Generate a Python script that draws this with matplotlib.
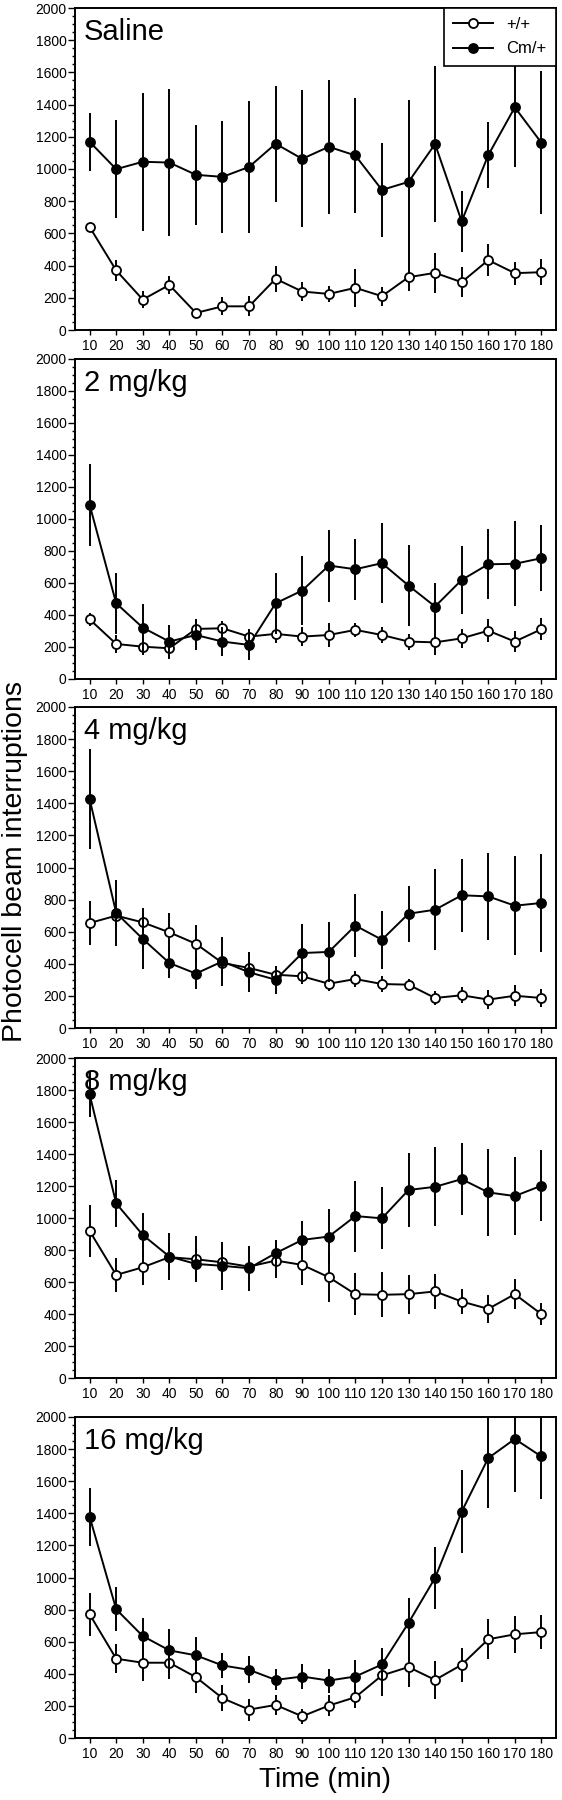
import matplotlib
matplotlib.use("Agg")
import matplotlib.pyplot as plt
from matplotlib.ticker import MultipleLocator
from matplotlib.lines import Line2D

plt.rcParams['font.family'] = ['Liberation Sans', 'DejaVu Sans']

times = [10, 20, 30, 40, 50, 60, 70, 80, 90, 100, 110, 120, 130, 140, 150, 160, 170, 180]
panel_titles = ["Saline", "2 mg/kg", "4 mg/kg", "8 mg/kg", "16 mg/kg"]
legend_labels = ["+/+", "Cm/+"]

# Saline
sal_wt = [640, 370, 189, 280, 106, 147, 147, 318, 239, 224, 262, 210, 328, 355, 297, 434, 353, 359]
sal_wt_err = [20, 65, 55, 55, 20, 55, 62, 80, 58, 52, 118, 58, 83, 124, 95, 100, 72, 80]
sal_cm = [1169, 999, 1045, 1040, 964, 951, 1013, 1157, 1063, 1138, 1084, 870, 920, 1155, 675, 1086, 1383, 1163]
sal_cm_err = [180, 305, 430, 455, 310, 350, 410, 360, 425, 415, 360, 290, 510, 485, 190, 205, 370, 445]

# 2 mg/kg
d2_wt = [373, 219, 202, 192, 313, 317, 265, 282, 265, 275, 307, 275, 234, 229, 254, 302, 234, 311]
d2_wt_err = [40, 55, 50, 70, 60, 45, 45, 57, 58, 75, 42, 50, 50, 78, 58, 72, 68, 68]
d2_cm = [1089, 473, 321, 234, 275, 234, 213, 473, 553, 709, 686, 724, 584, 453, 619, 717, 720, 755]
d2_cm_err = [255, 190, 145, 105, 95, 90, 95, 190, 215, 225, 190, 250, 255, 145, 210, 220, 265, 205]

# 4 mg/kg
d4_wt = [654, 700, 658, 596, 525, 405, 374, 332, 322, 276, 305, 274, 270, 187, 204, 177, 201, 187]
d4_wt_err = [138, 60, 60, 120, 115, 60, 93, 55, 48, 48, 48, 50, 33, 42, 50, 57, 67, 54]
d4_cm = [1427, 717, 555, 405, 339, 415, 347, 301, 467, 474, 638, 550, 712, 737, 827, 820, 762, 779]
d4_cm_err = [310, 205, 190, 95, 95, 155, 125, 87, 182, 185, 195, 180, 175, 253, 228, 270, 308, 305]

# 8 mg/kg
d8_wt = [919, 644, 692, 755, 742, 723, 696, 734, 707, 630, 524, 520, 524, 541, 478, 432, 524, 399]
d8_wt_err = [165, 105, 110, 80, 143, 70, 50, 110, 125, 158, 130, 140, 122, 107, 78, 88, 95, 70]
d8_cm = [1773, 1091, 894, 759, 713, 701, 686, 780, 863, 884, 1012, 998, 1175, 1195, 1243, 1160, 1137, 1202]
d8_cm_err = [140, 145, 140, 145, 100, 148, 140, 85, 120, 170, 222, 193, 230, 247, 225, 270, 245, 220]

# 16 mg/kg
d16_wt = [771, 494, 469, 469, 379, 248, 177, 206, 135, 202, 254, 390, 442, 362, 456, 615, 646, 660]
d16_wt_err = [135, 92, 112, 100, 100, 80, 68, 65, 45, 63, 68, 130, 125, 118, 104, 125, 115, 105]
d16_cm = [1379, 802, 635, 546, 515, 452, 425, 362, 383, 358, 383, 458, 717, 998, 1410, 1744, 1863, 1754]
d16_cm_err = [180, 138, 115, 135, 117, 80, 83, 65, 78, 75, 100, 100, 155, 195, 260, 310, 330, 265]

wt_series = [sal_wt, d2_wt, d4_wt, d8_wt, d16_wt]
wt_errs = [sal_wt_err, d2_wt_err, d4_wt_err, d8_wt_err, d16_wt_err]
cm_series = [sal_cm, d2_cm, d4_cm, d8_cm, d16_cm]
cm_errs = [sal_cm_err, d2_cm_err, d4_cm_err, d8_cm_err, d16_cm_err]

W, H = 562, 1800
fig = plt.figure(figsize=(W / 100, H / 100), dpi=100)

left_px, right_px = 75, 556
panel_px = [(8, 330), (359, 679), (707, 1028), (1058, 1378), (1417, 1738)]

lw = 1.4
ms = 6.5
mew = 1.3
for i, (top, bot) in enumerate(panel_px):
    ax = fig.add_axes([left_px / W, 1 - bot / H, (right_px - left_px) / W, (bot - top) / H])
    kw = dict(color='black', lw=lw, elinewidth=lw, capsize=0, ms=ms, mew=mew, mec='black')
    ax.errorbar(times, wt_series[i], yerr=wt_errs[i], fmt='-o', mfc='white', zorder=3, **kw)
    ax.errorbar(times, cm_series[i], yerr=cm_errs[i], fmt='-o', mfc='black', zorder=4, **kw)
    ax.set_xlim(4.5, 185.5)
    ax.set_ylim(0, 2000)
    ax.set_xticks(times)
    ax.set_xticklabels([str(t) for t in times], fontsize=10)
    ax.yaxis.set_major_locator(MultipleLocator(200))
    ax.yaxis.set_minor_locator(MultipleLocator(50))
    ax.tick_params(axis='y', which='major', direction='out', length=5, width=1, labelsize=10, pad=1)
    ax.tick_params(axis='y', which='minor', direction='out', length=2.5, width=1)
    ax.tick_params(axis='x', which='major', direction='out', length=3.5, width=1, pad=3)
    for s in ax.spines.values():
        s.set_linewidth(1.4)
    ax.text(0.018, 0.97, panel_titles[i], transform=ax.transAxes, fontsize=21,
            ha='left', va='top')
    if i == 0:
        handles = [
            Line2D([], [], color='black', lw=lw, marker='o', ms=ms, mew=mew, mfc='white', mec='black'),
            Line2D([], [], color='black', lw=lw, marker='o', ms=ms, mew=mew, mfc='black', mec='black'),
        ]
        leg = ax.legend(handles, legend_labels, loc='upper right', fontsize=12,
                        frameon=True, fancybox=False, borderaxespad=0, handlelength=2.4,
                        borderpad=0.55, labelspacing=0.55, handletextpad=0.8,
                        framealpha=1)
        leg.get_frame().set_edgecolor('black')
        leg.get_frame().set_linewidth(1.2)
        leg.set_zorder(10)

fig.text(15 / W, 1 - 862 / H, "Photocell beam interruptions", rotation=90,
         fontsize=20.5, ha='center', va='center')
fig.text(325 / W, 1 - 1780 / H, "Time (min)", fontsize=20, ha='center', va='center')

fig.savefig("out.png", dpi=100)
